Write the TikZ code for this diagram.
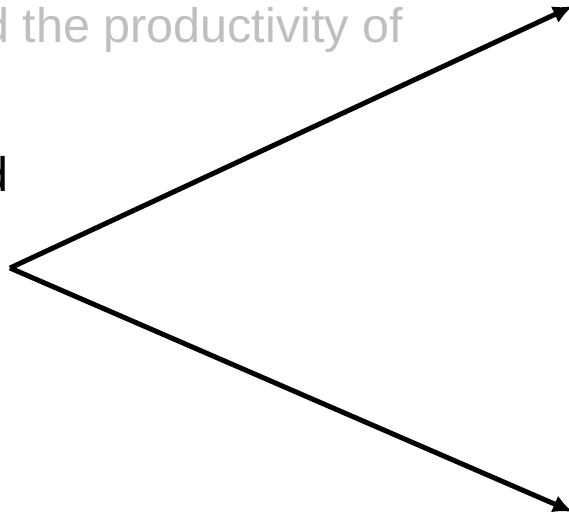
\documentclass[tikz,border=0pt]{standalone}
\usepackage{fontspec}
\setmainfont{Liberation Sans}
\usetikzlibrary{arrows.meta}
\definecolor{faded}{RGB}{191,191,191}
\begin{document}
\begin{tikzpicture}[x=1pt,y=-1pt,
  branch/.style={line width=5pt,-{Latex[length=20pt,width=18pt]}},
  bigtext/.style={inner sep=0,anchor=base west,font=\fontsize{48.5}{58}\selectfont}]
\useasboundingbox (0,0) rectangle (569,515);
\clip (0,0) rectangle (569,515);
\node[bigtext,text=faded] (prev) at (-18,42) {d the productivity of};
\node[bigtext] (cur) at (-19,191) {d};
\coordinate (root) at (10,268);
\coordinate (up) at (573,6);
\coordinate (down) at (573,512);
\draw[branch] (root)--(up);
\draw[branch] (root)--(down);
\end{tikzpicture}
\end{document}
